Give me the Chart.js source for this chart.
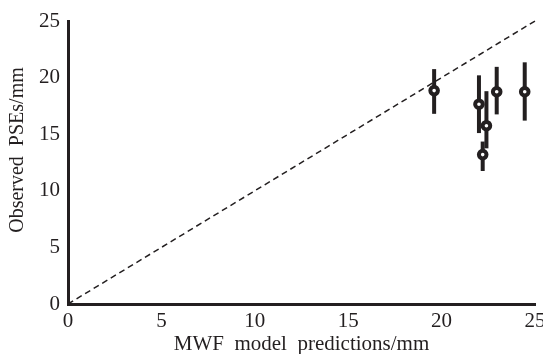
<!DOCTYPE html>
<html>
<head>
<meta charset="utf-8">
<script src="https://cdn.jsdelivr.net/npm/chart.js@4"></script>
<style>
  html, body { margin: 0; padding: 0; background: #fff; }
  #wrap { width: 543px; height: 354px; }
</style>
</head>
<body>
<div id="wrap"><canvas id="chart" width="543" height="354"></canvas></div>
<script>
// model predictions (x) vs observed PSEs (y), with error bar ends
const predicted = [19.6, 22.0, 22.4, 22.2, 22.95, 24.45];
const observed  = [18.85, 17.65, 15.75, 13.2, 18.75, 18.75];
const errLow    = [16.8, 15.1, 13.75, 11.75, 16.75, 16.2];
const errHigh   = [20.75, 20.2, 18.8, 14.35, 20.95, 21.35];
const identityX = [0, 25];
const ticks = [0, 5, 10, 15, 20, 25];

const INK = '#231f20';
const FONT = "'Liberation Serif', 'DejaVu Serif', serif";

// vertical error bars, drawn before the markers
const errorBars = {
  id: 'errorBars',
  beforeDatasetsDraw(chart) {
    const { ctx, scales: { x, y } } = chart;
    ctx.save();
    ctx.strokeStyle = INK;
    ctx.lineWidth = 4;
    predicted.forEach((px, i) => {
      const cx = x.getPixelForValue(px);
      ctx.beginPath();
      ctx.moveTo(cx, y.getPixelForValue(errLow[i]));
      ctx.lineTo(cx, y.getPixelForValue(errHigh[i]));
      ctx.stroke();
    });
    ctx.restore();
  }
};

new Chart(document.getElementById('chart'), {
  type: 'scatter',
  data: {
    datasets: [
      {
        label: 'identity',
        type: 'line',
        data: identityX.map(v => ({ x: v, y: v })),
        borderColor: INK,
        borderWidth: 1.5,
        borderDash: [6, 4],
        pointRadius: 0,
        fill: false,
        clip: false,
        order: 2
      },
      {
        label: 'PSE',
        data: predicted.map((v, i) => ({ x: v, y: observed[i] })),
        pointRadius: 3.8,
        pointBorderWidth: 4,
        pointBackgroundColor: '#fff',
        pointBorderColor: INK,
        order: 1
      }
    ]
  },
  options: {
    responsive: false,
    animation: false,
    layout: { padding: { top: 21, right: 0, left: 0, bottom: 0 } },
    plugins: { legend: { display: false }, tooltip: { enabled: false } },
    scales: {
      x: {
        type: 'linear',
        min: 0, max: 25,
        afterBuildTicks: s => { s.ticks = ticks.map(v => ({ value: v })); },
        afterFit: s => { s.height = 50; s.paddingRight = 6; },
        grid: { display: false, drawTicks: false },
        border: { display: true, color: INK, width: 3 },
        ticks: { font: { family: FONT, size: 21 }, color: INK, padding: 5, maxRotation: 0 },
        title: {
          display: true,
          text: 'MWF  model  predictions/mm',
          font: { family: FONT, size: 21 },
          color: INK,
          padding: { top: 2, bottom: -3 }
        }
      },
      y: {
        type: 'linear',
        min: 0, max: 25,
        afterBuildTicks: s => { s.ticks = ticks.map(v => ({ value: v })); },
        afterFit: s => { s.width = 68; },
        grid: { display: false, drawTicks: false },
        border: { display: true, color: INK, width: 3 },
        ticks: { font: { family: FONT, size: 21 }, color: INK, padding: 8 },
        title: {
          display: true,
          text: '     Observed  PSEs/mm',
          font: { family: FONT, size: 20 },
          color: INK,
          padding: { top: 6, bottom: 0 }
        }
      }
    }
  },
  plugins: [errorBars]
});
</script>
</body>
</html>
